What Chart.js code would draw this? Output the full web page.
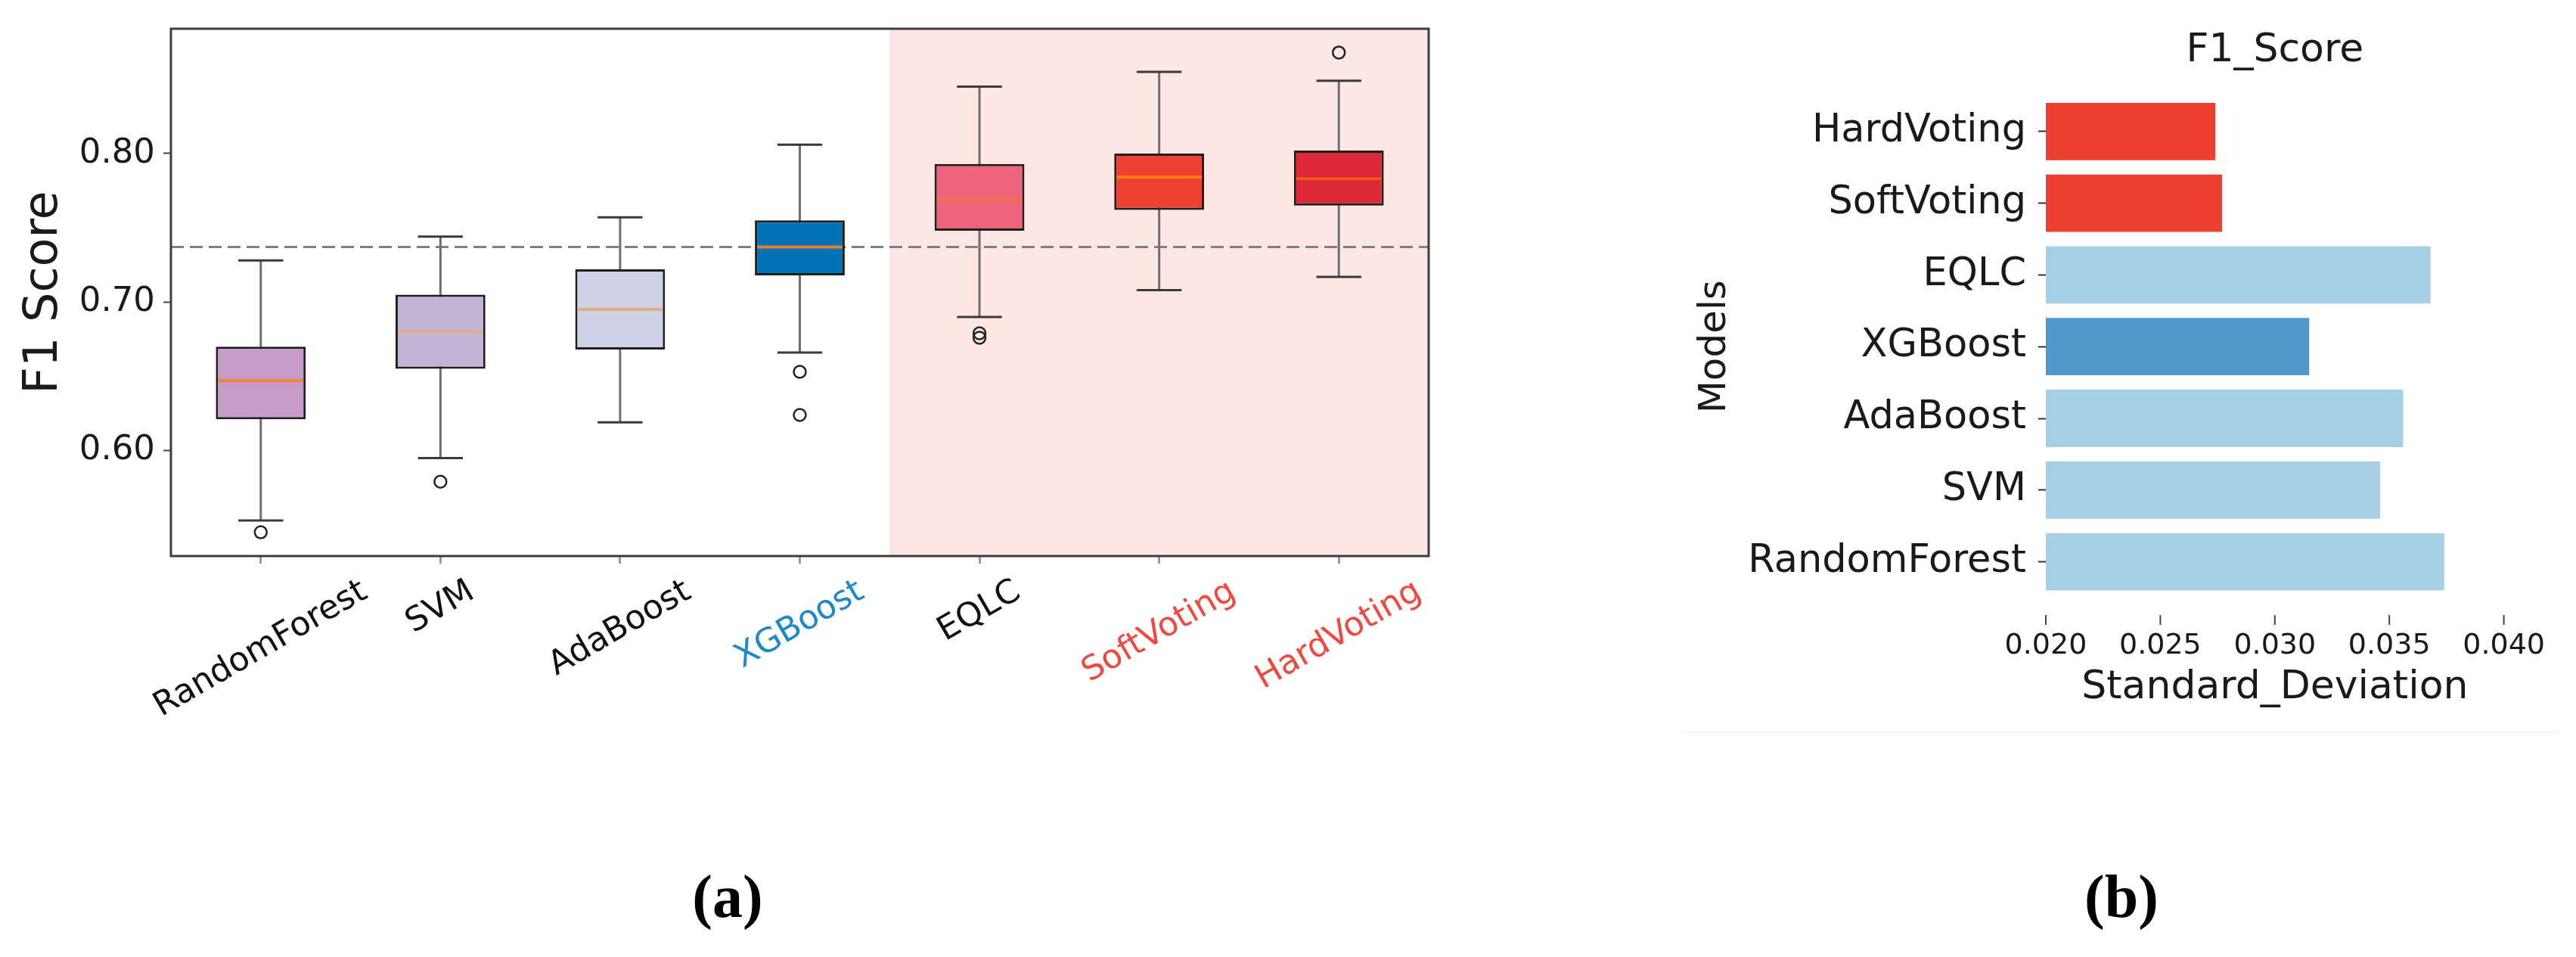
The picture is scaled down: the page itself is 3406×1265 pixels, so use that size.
<!DOCTYPE html>
<html>
<head>
<meta charset="utf-8">
<script src="https://cdn.jsdelivr.net/npm/chart.js@4.4.1/dist/chart.umd.min.js"></script>
<style>
  body { margin: 0; background: #fff; width: 3406px; height: 1265px; overflow: hidden; position: relative; }
  canvas { position: absolute; }
  #boxCanvas { left: 0; top: 0; }
  #stdCanvas { left: 2150px; top: 0; }
  .cap { position: absolute; width: 200px; text-align: center; font: bold 80px 'Liberation Serif'; line-height: 80px; top: 1145px; color: #000; }
  .edge { position: absolute; left: 2223px; top: 967px; width: 1162px; height: 2px; background: #f3f3f3; }
</style>
</head>
<body>
<canvas id="boxCanvas" width="2000" height="1100"></canvas>
<canvas id="stdCanvas" width="1256" height="1100"></canvas>
<div class="edge"></div>
<div class="cap" style="left:862px">(a)</div>
<div class="cap" style="left:2705px">(b)</div>
<script>
// (a) F1 score distribution per model
const models = ['RandomForest', 'SVM', 'AdaBoost', 'XGBoost', 'EQLC', 'SoftVoting', 'HardVoting'];
const whiskerLow = [0.553, 0.595, 0.619, 0.666, 0.690, 0.708, 0.717];
const q1 = [0.621, 0.655, 0.668, 0.718, 0.748, 0.762, 0.765];
const median = [0.647, 0.680, 0.695, 0.737, 0.769, 0.784, 0.783];
const q3 = [0.670, 0.705, 0.722, 0.755, 0.793, 0.800, 0.802];
const whiskerHigh = [0.728, 0.744, 0.757, 0.806, 0.845, 0.855, 0.849];
const outlierModel = ['RandomForest', 'SVM', 'XGBoost', 'XGBoost', 'EQLC', 'EQLC', 'HardVoting'];
const outlierValue = [0.545, 0.579, 0.653, 0.624, 0.679, 0.676, 0.868];
const baseline = 0.737;
const f1Ticks = [0.60, 0.70, 0.80];

// (b) standard deviation of F1 score
const stdModels = ['HardVoting', 'SoftVoting', 'EQLC', 'XGBoost', 'AdaBoost', 'SVM', 'RandomForest'];
const stdValues = [0.0274, 0.0277, 0.0368, 0.0315, 0.0356, 0.0346, 0.0374];
const stdTicks = [0.020, 0.025, 0.030, 0.035, 0.040];

// colours
const boxColors = ['#c69cc8', '#c2b4d5', '#cdd3e5', '#0072b8', '#ef637b', '#ec4133', '#dc2836'];
const medianColors = ['#f5822e', '#e6a886', '#e6aa84', '#f07f2a', '#f27048', '#ff7f0e', '#f0561f'];
const labelColors = ['#111', '#111', '#111', '#1f88cc', '#111', '#f04a40', '#f04a40'];
const stdColors = ['#ec3f32', '#ec3f32', '#a7cfe6', '#4f98c9', '#a7cfe6', '#a7cfe6', '#a7cfe6'];

Chart.defaults.font.family = 'DejaVu Sans';

const boxParts = {
  id: 'boxParts',
  beforeDatasetsDraw(chart) {
    const {ctx, chartArea: a, scales: {x, y}} = chart;
    const step = x.getPixelForValue(1) - x.getPixelForValue(0);
    ctx.save();
    const sx = (x.getPixelForValue(3) + x.getPixelForValue(4)) / 2;
    ctx.fillStyle = '#fce7e5';
    ctx.fillRect(sx, a.top, a.right - sx, a.bottom - a.top);

    const by = y.getPixelForValue(baseline);
    ctx.strokeStyle = '#808080';
    ctx.lineWidth = 3;
    ctx.setLineDash([17, 8]);
    ctx.beginPath();
    ctx.moveTo(a.left, by);
    ctx.lineTo(a.right, by);
    ctx.stroke();
    ctx.setLineDash([]);

    models.forEach((m, i) => {
      const cx = x.getPixelForValue(i);
      const lo = y.getPixelForValue(whiskerLow[i]);
      const hi = y.getPixelForValue(whiskerHigh[i]);
      ctx.strokeStyle = '#6e6e6e';
      ctx.lineWidth = 3;
      ctx.beginPath();
      ctx.moveTo(cx, lo);
      ctx.lineTo(cx, hi);
      ctx.stroke();
      ctx.strokeStyle = '#3a3a3a';
      ctx.beginPath();
      ctx.moveTo(cx - step * 0.125, lo);
      ctx.lineTo(cx + step * 0.125, lo);
      ctx.moveTo(cx - step * 0.125, hi);
      ctx.lineTo(cx + step * 0.125, hi);
      ctx.stroke();
    });
    ctx.restore();
  },
  afterDatasetsDraw(chart) {
    const {ctx, chartArea: a, scales: {x, y}} = chart;
    const step = x.getPixelForValue(1) - x.getPixelForValue(0);
    ctx.save();
    models.forEach((m, i) => {
      const cx = x.getPixelForValue(i);
      const my = y.getPixelForValue(median[i]);
      ctx.strokeStyle = medianColors[i];
      ctx.lineWidth = 4;
      ctx.beginPath();
      ctx.moveTo(cx - step * 0.25 + 3, my);
      ctx.lineTo(cx + step * 0.25 - 3, my);
      ctx.stroke();
    });
    ctx.strokeStyle = '#3c3c3c';
    ctx.lineWidth = 3;
    ctx.strokeRect(a.left, a.top, a.right - a.left, a.bottom - a.top);
    ctx.restore();
  },
  afterDraw(chart) {
    const {ctx, chartArea: a, scales: {x}} = chart;
    const ang = Math.PI / 6;
    const fs = 44;
    ctx.save();
    ctx.font = fs + 'px "DejaVu Sans"';
    ctx.textAlign = 'center';
    ctx.textBaseline = 'middle';
    models.forEach((m, i) => {
      const w = ctx.measureText(m).width;
      const h = fs * 1.16;
      const bh = w * Math.sin(ang) + h * Math.cos(ang);
      ctx.setTransform(1, 0, 0, 1, x.getPixelForValue(i), a.bottom + 22 + bh / 2);
      ctx.rotate(-ang);
      ctx.fillStyle = labelColors[i];
      ctx.fillText(m, 0, 0);
    });
    ctx.restore();
  }
};

new Chart(document.getElementById('boxCanvas'), {
  type: 'bar',
  data: {
    labels: models,
    datasets: [{
      type: 'line',
      data: outlierModel.map((m, i) => ({x: m, y: outlierValue[i]})),
      showLine: false,
      pointRadius: 8,
      pointBorderWidth: 2.5,
      pointBackgroundColor: 'rgba(0,0,0,0)',
      pointBorderColor: '#222'
    }, {
      data: models.map((m, i) => [q1[i], q3[i]]),
      backgroundColor: boxColors,
      borderColor: '#1e1e1e',
      borderWidth: 3,
      borderSkipped: false,
      barPercentage: 0.5,
      categoryPercentage: 1
    }]
  },
  options: {
    animation: false,
    responsive: false,
    devicePixelRatio: 1,
    layout: {padding: {left: 0, top: 36, right: 111, bottom: 265}},
    plugins: {legend: {display: false}, tooltip: {enabled: false}},
    scales: {
      x: {
        afterFit: s => { s.height = 100; },
        border: {display: false},
        grid: {drawOnChartArea: false, drawTicks: true, tickLength: 10, tickColor: '#999', tickWidth: 3, offset: false},
        ticks: {display: false}
      },
      y: {
        min: 0.529,
        max: 0.884,
        afterBuildTicks: s => { s.ticks = f1Ticks.map(v => ({value: v})); },
        afterFit: s => { s.width = 226; },
        border: {display: false},
        grid: {drawOnChartArea: false, drawTicks: true, tickLength: 10, tickColor: '#444', tickWidth: 2},
        ticks: {padding: 11, color: '#1a1a1a', font: {size: 45}, callback: v => v.toFixed(2)},
        title: {display: true, text: 'F1 Score', color: '#1a1a1a', font: {size: 62}, padding: {top: 22, bottom: 0}}
      }
    }
  },
  plugins: [boxParts]
});

const stdTickMarks = {
  id: 'stdTickMarks',
  afterDraw(chart) {
    const {ctx, chartArea: a, scales: {x}} = chart;
    ctx.save();
    ctx.strokeStyle = '#444';
    ctx.lineWidth = 2;
    ctx.beginPath();
    stdTicks.forEach(v => {
      const px = x.getPixelForValue(v);
      ctx.moveTo(px, a.bottom + 23);
      ctx.lineTo(px, a.bottom + 36);
    });
    ctx.stroke();
    ctx.restore();
  }
};

new Chart(document.getElementById('stdCanvas'), {
  type: 'bar',
  data: {
    labels: stdModels,
    datasets: [{
      data: stdValues,
      backgroundColor: stdColors,
      barPercentage: 0.8,
      categoryPercentage: 1
    }]
  },
  options: {
    indexAxis: 'y',
    animation: false,
    responsive: false,
    devicePixelRatio: 1,
    layout: {padding: {left: 0, top: 0, right: 95, bottom: 159}},
    plugins: {
      legend: {display: false},
      tooltip: {enabled: false},
      title: {
        display: true, text: 'F1_Score', fullSize: false, color: '#1a1a1a',
        font: {size: 52, weight: 'normal'}, padding: {top: 36, bottom: 28}
      }
    },
    scales: {
      x: {
        type: 'linear',
        min: 0.02,
        max: 0.04,
        afterBuildTicks: s => { s.ticks = stdTicks.map(v => ({value: v})); },
        afterFit: s => { s.height = 151; },
        border: {display: false},
        grid: {display: false, drawTicks: false},
        ticks: {padding: 41, color: '#1a1a1a', font: {size: 38}, callback: v => v.toFixed(3)},
        title: {display: true, text: 'Standard_Deviation', color: '#1a1a1a', font: {size: 52}, padding: {top: 0, bottom: 0}}
      },
      y: {
        afterFit: s => { s.width = 555; },
        border: {display: false},
        grid: {drawOnChartArea: false, drawTicks: true, tickLength: 10, tickColor: '#333', tickWidth: 2, offset: false},
        ticks: {padding: 16, color: '#1a1a1a', font: {size: 51}},
        title: {display: true, text: 'Models', color: '#1a1a1a', font: {size: 50}, padding: {top: 88, bottom: 0}}
      }
    }
  },
  plugins: [stdTickMarks]
});
</script>
</body>
</html>
